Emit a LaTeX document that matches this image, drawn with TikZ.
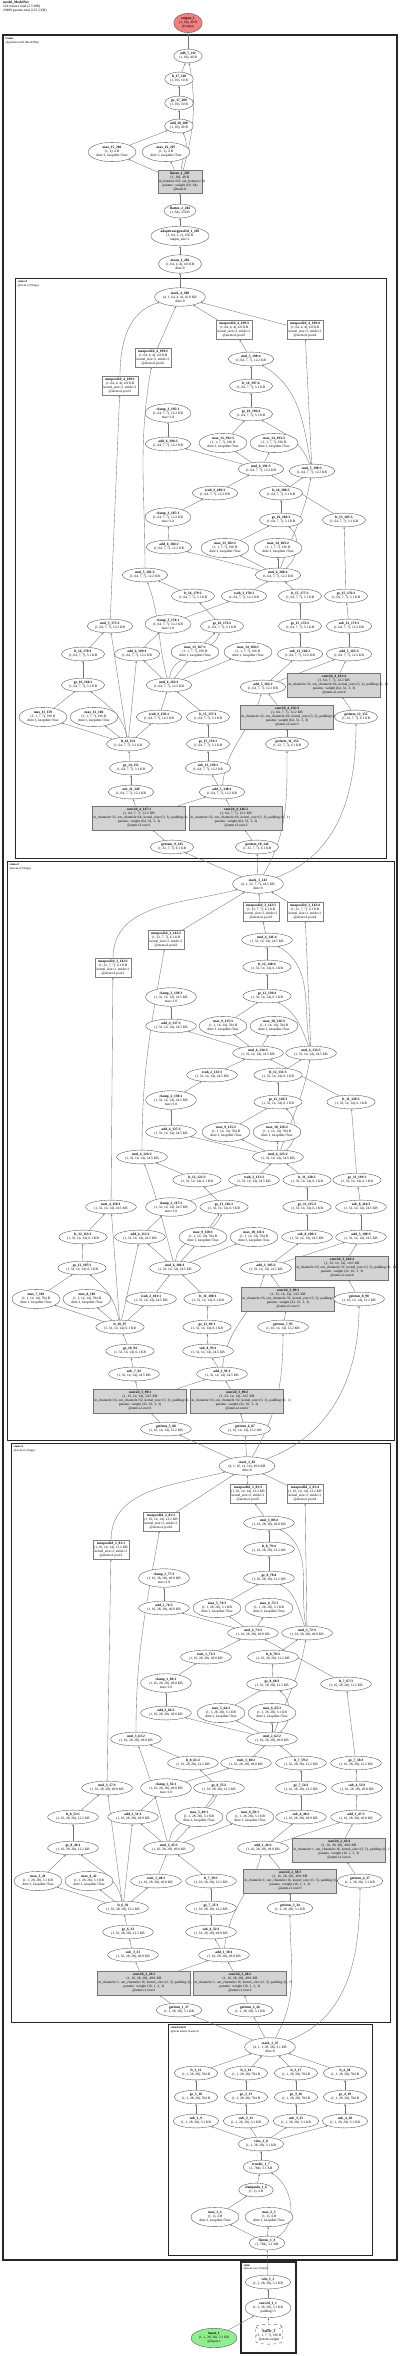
\documentclass[tikz,border=0pt]{standalone}
\usepackage{fontspec}
\setmainfont{Liberation Serif}
\usepackage{tikz}
\usetikzlibrary{shapes,arrows.meta,positioning}

\definecolor{outred}{RGB}{240,128,128}
\definecolor{ingreen}{RGB}{144,238,144}
\definecolor{modgray}{RGB}{211,211,211}
\pgfdeclarelayer{bg}
\pgfdeclarelayer{edges}
\pgfsetlayers{bg,edges,main}

\newcommand{\nodefont}{\fontsize{3.5}{4}\selectfont}
\newcommand{\kd}{dim=1, keepdim=True}
\newcommand{\ks}{kernel\_size=2, stride=2}
% stage 3
\newcommand{\shpA}{(1, 64, 7, 7), 12.2 KB}
\newcommand{\blnA}{(1, 64, 7, 7), 3.1 KB}
\newcommand{\mxA}{(1, 1, 7, 7), 196 B}
\newcommand{\giA}{(1, 32, 7, 7), 6.1 KB}
\newcommand{\plA}{(1, 64, 4, 4), 4.0 KB}
\newcommand{\cvA}{\mbox{in\_channels=32, out\_channels=64, kernel\_size=(3, 3), padding=(1, 1)}}
\newcommand{\wA}{params: weight (64, 32, 3, 3)}
% stage 2
\newcommand{\shpB}{(1, 32, 14, 14), 24.5 KB}
\newcommand{\blnB}{(1, 32, 14, 14), 6.1 KB}
\newcommand{\mxB}{(1, 1, 14, 14), 784 B}
\newcommand{\giB}{(1, 16, 14, 14), 12.2 KB}
\newcommand{\plB}{(1, 32, 7, 7), 6.1 KB}
\newcommand{\cvB}{\mbox{in\_channels=16, out\_channels=32, kernel\_size=(3, 3), padding=(1, 1)}}
\newcommand{\wB}{params: weight (32, 16, 3, 3)}
% stage 1
\newcommand{\shpC}{(1, 16, 28, 28), 49.0 KB}
\newcommand{\blnC}{(1, 16, 28, 28), 12.2 KB}
\newcommand{\mxC}{(1, 1, 28, 28), 3.1 KB}
\newcommand{\giC}{(1, 1, 28, 28), 3.1 KB}
\newcommand{\plC}{(1, 16, 14, 14), 12.2 KB}
\newcommand{\cvC}{\mbox{in\_channels=1, out\_channels=16, kernel\_size=(3, 3), padding=(1, 1)}}
\newcommand{\wC}{params: weight (16, 1, 3, 3)}

\begin{document}
\begin{tikzpicture}[x=1pt, y=-1pt,
    op/.style={ellipse, draw=black!70, line width=0.35pt, fill=white, align=center, inner xsep=1.2pt, inner ysep=1.3pt, font=\nodefont},
    mod/.style={rectangle, draw=black!55, line width=0.35pt, fill=modgray, text width=91pt, align=center, minimum height=24pt, inner sep=1pt, font=\nodefont},
    pool/.style={rectangle, draw=black!50, line width=0.3pt, fill=white, align=center, inner xsep=1.2pt, inner ysep=1.8pt, font=\nodefont},
    arrow/.style={-{Stealth[length=2pt,width=1.6pt]}, draw=black!55, line width=0.35pt},
    cluster/.style={draw=black!85, line width=0.9pt},
    clabel/.style={anchor=north west, align=left, inner sep=0.5pt, font=\fontsize{3}{3.4}\selectfont}
]
    \useasboundingbox (0,0) rectangle (400,2356);
    \node[anchor=north west, align=left, inner sep=0pt, font=\fontsize{3.5}{4}\selectfont] (title) at (3,1) {\textbf{model\_ModelNet}\\214 tensors total (2.5 MB)\\29480 params total (115.2 KB)};

    % head
    \node[op, fill=outred] (output) at (188,23) {\textbf{output\_1}\\(1, 10), 40 B\\@output};
    \node[op] (add7) at (188,56) {\textbf{add\_7\_211}\\(1, 10), 40 B};
    \node[op] (lt17) at (179,79) {\textbf{lt\_17\_210}\\(1, 10), 10 B};
    \node[op] (ge17) at (179,103) {\textbf{ge\_17\_209}\\(1, 10), 10 B};
    \node[op] (add18) at (179,126) {\textbf{add\_18\_208}\\(1, 10), 40 B};
    \node[op] (max15) at (112,152) {\textbf{max\_15\_206}\\(1, 1), 4 B\\\kd};
    \node[op] (max16) at (166,152) {\textbf{max\_16\_207}\\(1, 1), 4 B\\\kd};
    \node[mod, text width=42pt, minimum height=23pt] (linear) at (180,182) {\textbf{linear\_1\_205}\\(1, 10), 40 B\\\mbox{in\_features=64, out\_features=10}\\params: weight (10, 64)\\@head.fc};
    \node[op] (flatten2) at (180,211) {\textbf{flatten\_2\_204}\\(1, 64), 256 B};
    \node[op] (avgpool) at (180,236) {\textbf{adaptiveavgpool2d\_1\_203}\\(1, 64, 1, 1), 256 B\\output\_size=1};
    \node[op] (mean) at (180,264) {\textbf{mean\_1\_202}\\\plA\\dim=0};

    % stage 3
    \node[op] (a-top) at (180,297) {\textbf{stack\_4\_200}\\(4, 1, 64, 4, 4), 16.0 KB\\dim=0};
    \node[pool] (a-pool1) at (234,330) {\textbf{maxpool2d\_4\_199:3}\\\plA\\\ks\\@stem.s3.pool3};
    \node[pool] (a-pool2) at (305,330) {\textbf{maxpool2d\_4\_199:4}\\\plA\\\ks\\@stem.s3.pool4};
    \node[pool] (a-pool3) at (153,358) {\textbf{maxpool2d\_4\_199:2}\\\plA\\\ks\\@stem.s3.pool2};
    \node[pool] (a-pool4) at (120,386) {\textbf{maxpool2d\_4\_199:1}\\\plA\\\ks\\@stem.s3.pool1};
    \node[op] (a-mulo) at (251,359) {\textbf{mul\_5\_198:4}\\\shpA};
    \node[op] (a-lto) at (251,386) {\textbf{lt\_16\_197:4}\\\blnA};
    \node[op] (a-geo) at (251,414) {\textbf{ge\_16\_196:4}\\\blnA};
    \node[op] (a-clo) at (168,413) {\textbf{clamp\_3\_195:3}\\\shpA\\max=1.0};
    \node[op] (a-addo) at (168,444) {\textbf{add\_6\_194:3}\\\shpA};
    \node[op] (a-maxo) at (223,443) {\textbf{max\_13\_192:3}\\\mxA\\\kd};
    \node[op] (a-maxo2) at (274,443) {\textbf{max\_14\_193:3}\\\mxA\\\kd};
    \node[op] (a-mula) at (261,469) {\textbf{mul\_6\_191:3}\\\shpA};
    \node[op] (a-mulb) at (312,471) {\textbf{mul\_5\_190:3}\\\shpA};
    \node[op] (a-rsa) at (215,493) {\textbf{rsub\_3\_189:3}\\\shpA};
    \node[op] (a-ltb) at (281,493) {\textbf{lt\_16\_188:3}\\\blnA};
    \node[op] (a-cla) at (168,517) {\textbf{clamp\_3\_187:2}\\\shpA\\max=1.0};
    \node[op] (a-geb) at (281,520) {\textbf{ge\_16\_186:3}\\\blnA};
    \node[op] (a-lta) at (344,520) {\textbf{lt\_15\_185:3}\\\blnA};
    \node[op] (a-adda) at (169,547) {\textbf{add\_6\_184:2}\\\shpA};
    \node[op] (a-maxb) at (225,548) {\textbf{max\_13\_182:2}\\\mxA\\\kd};
    \node[op] (a-maxb2) at (278,548) {\textbf{max\_14\_183:2}\\\mxA\\\kd};
    \node[op] (a-mulc) at (145,575) {\textbf{mul\_5\_181:2}\\\shpA};
    \node[op] (a-muld) at (278,575) {\textbf{mul\_6\_180:2}\\\shpA};
    \node[op] (a-ltc) at (193,596) {\textbf{lt\_16\_179:2}\\\blnA};
    \node[op] (a-rsd) at (244,596) {\textbf{rsub\_3\_178:2}\\\shpA};
    \node[op] (a-ltd) at (300,596) {\textbf{lt\_15\_177:2}\\\blnA};
    \node[op] (a-gea) at (346,596) {\textbf{ge\_15\_176:3}\\\blnA};
    \node[op] (a-mule) at (110,626) {\textbf{mul\_5\_175:1}\\\shpA};
    \node[op] (a-cld) at (168,624) {\textbf{clamp\_3\_174:1}\\\shpA\\max=1.0};
    \node[op] (a-gec) at (222,626) {\textbf{ge\_16\_173:2}\\\blnA};
    \node[op] (a-ged) at (300,626) {\textbf{ge\_15\_172:2}\\\blnA};
    \node[op] (a-suba) at (349,626) {\textbf{sub\_12\_171:3}\\\shpA};
    \node[op] (a-lte) at (83,654) {\textbf{lt\_16\_170:1}\\\blnA};
    \node[op] (a-addd) at (137,654) {\textbf{add\_6\_169:1}\\\shpA};
    \node[op] (a-maxc) at (195,652) {\textbf{max\_13\_167:1}\\\mxA\\\kd};
    \node[op] (a-maxc2) at (248,652) {\textbf{max\_14\_168:1}\\\mxA\\\kd};
    \node[op] (a-subd) at (300,654) {\textbf{sub\_12\_166:2}\\\shpA};
    \node[op] (a-addq) at (349,654) {\textbf{add\_5\_165:3}\\\shpA};
    \node[op] (a-gee) at (83,685) {\textbf{ge\_16\_164:1}\\\blnA};
    \node[op] (a-mulf) at (169,685) {\textbf{mul\_6\_163:1}\\\shpA};
    \node[op] (a-addf) at (263,687) {\textbf{add\_5\_162:2}\\\shpA};
    \node[mod] (a-convd) at (334,685) {\textbf{conv2d\_4\_161:4}\\\shpA\\\cvA\\\wA\\@stem.s3.conv4};
    \node[op] (a-maxe) at (43,717) {\textbf{max\_11\_159}\\\mxA\\\kd};
    \node[op] (a-maxe2) at (94,717) {\textbf{max\_12\_160}\\\mxA\\\kd};
    \node[op] (a-rsf) at (159,717) {\textbf{rsub\_3\_158:1}\\\shpA};
    \node[op] (a-ltf) at (208,717) {\textbf{lt\_15\_157:1}\\\blnA};
    \node[mod] (a-convf) at (287,717) {\textbf{conv2d\_4\_156:3}\\\shpA\\\cvA\\\wA\\@stem.s3.conv3};
    \node[op] (a-gid) at (356,717) {\textbf{getitem\_12\_155}\\\giA};
    \node[op] (a-ltg) at (128,744) {\textbf{lt\_14\_154}\\\blnA};
    \node[op] (a-gef) at (208,744) {\textbf{ge\_15\_153:1}\\\blnA};
    \node[op] (a-gif) at (287,744) {\textbf{getitem\_11\_152}\\\giA};
    \node[op] (a-geg) at (131,768) {\textbf{ge\_14\_151}\\\blnA};
    \node[op] (a-subf) at (208,768) {\textbf{sub\_12\_150:1}\\\shpA};
    \node[op] (a-subg) at (131,792) {\textbf{sub\_11\_149}\\\shpA};
    \node[op] (a-addg) at (222,792) {\textbf{add\_5\_148:1}\\\shpA};
    \node[mod] (a-convg) at (139,818) {\textbf{conv2d\_4\_147:1}\\\shpA\\\cvA\\\wA\\@stem.s3.conv1};
    \node[mod] (a-convh) at (236,818) {\textbf{conv2d\_4\_146:2}\\\shpA\\\cvA\\\wA\\@stem.s3.conv2};
    \node[op] (a-gig) at (172,847) {\textbf{getitem\_9\_145}\\\giA};
    \node[op] (a-gih) at (257,847) {\textbf{getitem\_10\_144}\\\giA};

    % stage 2
    \node[op] (b-top) at (258,884) {\textbf{stack\_3\_143}\\(4, 1, 32, 7, 7), 24.5 KB\\dim=0};
    \node[pool] (b-pool1) at (261,912) {\textbf{maxpool2d\_3\_142:3}\\\plB\\\ks\\@stem.s2.pool3};
    \node[pool] (b-pool2) at (305,912) {\textbf{maxpool2d\_3\_142:4}\\\plB\\\ks\\@stem.s2.pool4};
    \node[pool] (b-pool3) at (166,940) {\textbf{maxpool2d\_3\_142:2}\\\plB\\\ks\\@stem.s2.pool2};
    \node[pool] (b-pool4) at (113,968) {\textbf{maxpool2d\_3\_142:1}\\\plB\\\ks\\@stem.s2.pool1};
    \node[op] (b-mulo) at (267,940) {\textbf{mul\_4\_141:4}\\\shpB};
    \node[op] (b-lto) at (267,967) {\textbf{lt\_12\_140:4}\\\blnB};
    \node[op] (b-geo) at (267,996) {\textbf{ge\_12\_139:4}\\\blnB};
    \node[op] (b-clo) at (171,997) {\textbf{clamp\_2\_138:3}\\\shpB\\max=1.0};
    \node[op] (b-addo) at (171,1026) {\textbf{add\_4\_137:3}\\\shpB};
    \node[op] (b-maxo) at (223,1026) {\textbf{max\_9\_135:3}\\\mxB\\\kd};
    \node[op] (b-maxo2) at (274,1026) {\textbf{max\_10\_136:3}\\\mxB\\\kd};
    \node[op] (b-mula) at (258,1053) {\textbf{mul\_6\_134:3}\\\shpB};
    \node[op] (b-mulb) at (311,1053) {\textbf{mul\_4\_133:3}\\\shpB};
    \node[op] (b-rsa) at (212,1075) {\textbf{rsub\_2\_132:3}\\\shpB};
    \node[op] (b-ltb) at (278,1075) {\textbf{lt\_12\_131:3}\\\blnB};
    \node[op] (b-cla) at (171,1100) {\textbf{clamp\_2\_130:2}\\\shpB\\max=1.0};
    \node[op] (b-geb) at (278,1102) {\textbf{ge\_12\_129:3}\\\blnB};
    \node[op] (b-lta) at (351,1102) {\textbf{lt\_11\_128:3}\\\blnB};
    \node[op] (b-adda) at (171,1132) {\textbf{add\_4\_127:2}\\\shpB};
    \node[op] (b-maxb) at (226,1132) {\textbf{max\_9\_125:2}\\\mxB\\\kd};
    \node[op] (b-maxb2) at (277,1132) {\textbf{max\_10\_126:2}\\\mxB\\\kd};
    \node[op] (b-mulc) at (142,1157) {\textbf{mul\_4\_124:2}\\\shpB};
    \node[op] (b-muld) at (278,1157) {\textbf{mul\_6\_123:2}\\\shpB};
    \node[op] (b-ltc) at (197,1180) {\textbf{lt\_12\_122:2}\\\blnB};
    \node[op] (b-rsd) at (254,1180) {\textbf{rsub\_2\_121:2}\\\shpB};
    \node[op] (b-ltd) at (307,1180) {\textbf{lt\_11\_120:2}\\\blnB};
    \node[op] (b-gea) at (357,1180) {\textbf{ge\_11\_119:3}\\\blnB};
    \node[op] (b-mule) at (111,1207) {\textbf{mul\_4\_118:1}\\\shpB};
    \node[op] (b-cld) at (171,1207) {\textbf{clamp\_2\_117:1}\\\shpB\\max=1.0};
    \node[op] (b-gec) at (224,1207) {\textbf{ge\_12\_116:2}\\\blnB};
    \node[op] (b-ged) at (307,1207) {\textbf{ge\_11\_115:2}\\\blnB};
    \node[op] (b-suba) at (361,1207) {\textbf{sub\_8\_114:3}\\\shpB};
    \node[op] (b-lte) at (83,1237) {\textbf{lt\_12\_113:1}\\\blnB};
    \node[op] (b-addd) at (140,1237) {\textbf{add\_4\_112:1}\\\shpB};
    \node[op] (b-maxc) at (203,1237) {\textbf{max\_9\_110:1}\\\mxB\\\kd};
    \node[op] (b-maxc2) at (254,1237) {\textbf{max\_10\_111:1}\\\mxB\\\kd};
    \node[op] (b-subd) at (307,1237) {\textbf{sub\_8\_109:2}\\\shpB};
    \node[op] (b-addq) at (361,1237) {\textbf{add\_3\_108:3}\\\shpB};
    \node[op] (b-gee) at (82,1268) {\textbf{ge\_12\_107:1}\\\blnB};
    \node[op] (b-mulf) at (175,1268) {\textbf{mul\_6\_106:1}\\\shpB};
    \node[op] (b-addf) at (266,1268) {\textbf{add\_3\_105:2}\\\shpB};
    \node[mod] (b-convd) at (342,1268) {\textbf{conv2d\_3\_104:4}\\\shpB\\\cvB\\\wB\\@stem.s2.conv4};
    \node[op] (b-maxe) at (36,1299) {\textbf{max\_7\_102}\\\mxB\\\kd};
    \node[op] (b-maxe2) at (87,1299) {\textbf{max\_8\_103}\\\mxB\\\kd};
    \node[op] (b-rsf) at (151,1299) {\textbf{rsub\_2\_101:1}\\\shpB};
    \node[op] (b-ltf) at (208,1299) {\textbf{lt\_11\_100:1}\\\blnB};
    \node[mod] (b-convf) at (288,1299) {\textbf{conv2d\_3\_99:3}\\\shpB\\\cvB\\\wB\\@stem.s2.conv3};
    \node[op] (b-gid) at (359,1299) {\textbf{getitem\_8\_98}\\\giB};
    \node[op] (b-ltg) at (120,1327) {\textbf{lt\_10\_97}\\\blnB};
    \node[op] (b-gef) at (207,1327) {\textbf{ge\_11\_96:1}\\\blnB};
    \node[op] (b-gif) at (283,1327) {\textbf{getitem\_7\_95}\\\giB};
    \node[op] (b-geg) at (130,1351) {\textbf{ge\_10\_94}\\\blnB};
    \node[op] (b-subf) at (208,1351) {\textbf{sub\_8\_93:1}\\\shpB};
    \node[op] (b-subg) at (134,1374) {\textbf{sub\_7\_92}\\\shpB};
    \node[op] (b-addg) at (222,1374) {\textbf{add\_3\_91:1}\\\shpB};
    \node[mod] (b-convg) at (140,1401) {\textbf{conv2d\_3\_90:1}\\\shpB\\\cvB\\\wB\\@stem.s2.conv1};
    \node[mod] (b-convh) at (237,1401) {\textbf{conv2d\_3\_89:2}\\\shpB\\\cvB\\\wB\\@stem.s2.conv2};
    \node[op] (b-gig) at (166,1429) {\textbf{getitem\_5\_88}\\\giB};
    \node[op] (b-gih) at (245,1429) {\textbf{getitem\_6\_87}\\\giB};

    % stage 1
    \node[op] (c-top) at (247,1466) {\textbf{stack\_2\_82}\\(4, 1, 16, 14, 14), 49.0 KB\\dim=0};
    \node[pool] (c-pool1) at (248,1494) {\textbf{maxpool2d\_2\_81:3}\\\plC\\\ks\\@stem.s1.pool3};
    \node[pool] (c-pool2) at (305,1494) {\textbf{maxpool2d\_2\_81:4}\\\plC\\\ks\\@stem.s1.pool4};
    \node[pool] (c-pool3) at (161,1522) {\textbf{maxpool2d\_2\_81:2}\\\plC\\\ks\\@stem.s1.pool2};
    \node[pool] (c-pool4) at (111,1550) {\textbf{maxpool2d\_2\_81:1}\\\plC\\\ks\\@stem.s1.pool1};
    \node[op] (c-mulo) at (269,1523) {\textbf{mul\_3\_80:4}\\\shpC};
    \node[op] (c-lto) at (269,1549) {\textbf{lt\_8\_79:4}\\\blnC};
    \node[op] (c-geo) at (269,1578) {\textbf{ge\_8\_78:4}\\\blnC};
    \node[op] (c-clo) at (164,1578) {\textbf{clamp\_1\_77:3}\\\shpC\\max=1.0};
    \node[op] (c-addo) at (164,1608) {\textbf{add\_2\_76:3}\\\shpC};
    \node[op] (c-maxo) at (217,1608) {\textbf{max\_5\_74:3}\\\mxC\\\kd};
    \node[op] (c-maxo2) at (269,1608) {\textbf{max\_6\_75:3}\\\mxC\\\kd};
    \node[op] (c-mula) at (253,1633) {\textbf{mul\_2\_73:3}\\\shpC};
    \node[op] (c-mulb) at (307,1633) {\textbf{mul\_3\_72:3}\\\shpC};
    \node[op] (c-rsa) at (206,1657) {\textbf{rsub\_1\_71:3}\\\shpC};
    \node[op] (c-ltb) at (273,1657) {\textbf{lt\_8\_70:3}\\\blnC};
    \node[op] (c-cla) at (166,1683) {\textbf{clamp\_1\_69:2}\\\shpC\\max=1.0};
    \node[op] (c-geb) at (272,1684) {\textbf{ge\_8\_68:3}\\\blnC};
    \node[op] (c-lta) at (346,1684) {\textbf{lt\_7\_67:3}\\\blnC};
    \node[op] (c-adda) at (166,1713) {\textbf{add\_2\_66:2}\\\shpC};
    \node[op] (c-maxb) at (221,1713) {\textbf{max\_5\_64:2}\\\mxC\\\kd};
    \node[op] (c-maxb2) at (272,1713) {\textbf{max\_6\_65:2}\\\mxC\\\kd};
    \node[op] (c-mulc) at (136,1739) {\textbf{mul\_3\_63:2}\\\shpC};
    \node[op] (c-muld) at (272,1739) {\textbf{mul\_2\_62:2}\\\shpC};
    \node[op] (c-ltc) at (193,1763) {\textbf{lt\_8\_61:2}\\\blnC};
    \node[op] (c-rsd) at (246,1763) {\textbf{rsub\_1\_60:2}\\\shpC};
    \node[op] (c-ltd) at (301,1763) {\textbf{lt\_7\_59:2}\\\blnC};
    \node[op] (c-gea) at (356,1763) {\textbf{ge\_7\_58:3}\\\blnC};
    \node[op] (c-mule) at (107,1788) {\textbf{mul\_3\_57:1}\\\shpC};
    \node[op] (c-cld) at (166,1788) {\textbf{clamp\_1\_56:1}\\\shpC\\max=1.0};
    \node[op] (c-gec) at (219,1788) {\textbf{ge\_8\_55:2}\\\blnC};
    \node[op] (c-ged) at (301,1788) {\textbf{ge\_7\_54:2}\\\blnC};
    \node[op] (c-suba) at (357,1788) {\textbf{sub\_4\_53:3}\\\shpC};
    \node[op] (c-lte) at (73,1817) {\textbf{lt\_8\_52:1}\\\blnC};
    \node[op] (c-addd) at (133,1817) {\textbf{add\_2\_51:1}\\\shpC};
    \node[op] (c-maxc) at (199,1817) {\textbf{max\_5\_49:1}\\\mxC\\\kd};
    \node[op] (c-maxc2) at (250,1817) {\textbf{max\_6\_50:1}\\\mxC\\\kd};
    \node[op] (c-subd) at (301,1817) {\textbf{sub\_4\_48:2}\\\shpC};
    \node[op] (c-addq) at (356,1817) {\textbf{add\_1\_47:3}\\\shpC};
    \node[op] (c-gee) at (73,1848) {\textbf{ge\_8\_46:1}\\\blnC};
    \node[op] (c-mulf) at (169,1848) {\textbf{mul\_2\_45:1}\\\shpC};
    \node[op] (c-addf) at (263,1848) {\textbf{add\_1\_44:2}\\\shpC};
    \node[mod] (c-convd) at (339,1850) {\textbf{conv2d\_2\_43:4}\\\shpC\\\cvC\\\wC\\@stem.s1.conv4};
    \node[op] (c-maxe) at (38,1881) {\textbf{max\_3\_41}\\\mxC\\\kd};
    \node[op] (c-maxe2) at (89,1881) {\textbf{max\_4\_42}\\\mxC\\\kd};
    \node[op] (c-rsf) at (156,1881) {\textbf{rsub\_1\_40:1}\\\shpC};
    \node[op] (c-ltf) at (211,1881) {\textbf{lt\_7\_39:1}\\\blnC};
    \node[mod] (c-convf) at (290,1881) {\textbf{conv2d\_2\_38:3}\\\shpC\\\cvC\\\wC\\@stem.s1.conv3};
    \node[op] (c-gid) at (360,1881) {\textbf{getitem\_4\_37}\\\giC};
    \node[op] (c-ltg) at (123,1908) {\textbf{lt\_6\_36}\\\blnC};
    \node[op] (c-gef) at (211,1908) {\textbf{ge\_7\_35:1}\\\blnC};
    \node[op] (c-gif) at (290,1908) {\textbf{getitem\_3\_34}\\\giC};
    \node[op] (c-geg) at (128,1932) {\textbf{ge\_6\_33}\\\blnC};
    \node[op] (c-subf) at (211,1932) {\textbf{sub\_4\_32:1}\\\shpC};
    \node[op] (c-subg) at (133,1955) {\textbf{sub\_3\_31}\\\shpC};
    \node[op] (c-addg) at (224,1955) {\textbf{add\_1\_30:1}\\\shpC};
    \node[mod] (c-convg) at (144,1983) {\textbf{conv2d\_2\_29:1}\\\shpC\\\cvC\\\wC\\@stem.s1.conv1};
    \node[mod] (c-convh) at (240,1983) {\textbf{conv2d\_2\_28:2}\\\shpC\\\cvC\\\wC\\@stem.s1.conv2};
    \node[op] (c-gig) at (179,2010) {\textbf{getitem\_1\_27}\\\giC};
    \node[op] (c-gih) at (250,2010) {\textbf{getitem\_2\_26}\\\giC};

    % lateral
    \node[op] (lat-stack) at (270,2047) {\textbf{stack\_1\_25}\\(4, 1, 1, 28, 28), 3.1 KB\\dim=0};
    \node[op] (lat-lt1) at (196,2073) {\textbf{lt\_1\_11}\\(1, 1, 28, 28), 784 B};
    \node[op] (lat-lt2) at (246,2073) {\textbf{lt\_2\_14}\\(1, 1, 28, 28), 784 B};
    \node[op] (lat-lt3) at (296,2073) {\textbf{lt\_3\_17}\\(1, 1, 28, 28), 784 B};
    \node[op] (lat-lt4) at (345,2073) {\textbf{lt\_4\_20}\\(1, 1, 28, 28), 784 B};
    \node[op] (lat-ge1) at (196,2097) {\textbf{ge\_1\_10}\\(1, 1, 28, 28), 784 B};
    \node[op] (lat-ge2) at (246,2097) {\textbf{ge\_2\_13}\\(1, 1, 28, 28), 784 B};
    \node[op] (lat-ge3) at (296,2097) {\textbf{ge\_3\_16}\\(1, 1, 28, 28), 784 B};
    \node[op] (lat-ge4) at (345,2097) {\textbf{ge\_4\_19}\\(1, 1, 28, 28), 784 B};
    \node[op] (lat-sub1) at (196,2121) {\textbf{sub\_1\_9}\\(1, 1, 28, 28), 3.1 KB};
    \node[op] (lat-sub2) at (246,2121) {\textbf{sub\_2\_12}\\(1, 1, 28, 28), 3.1 KB};
    \node[op] (lat-sub3) at (296,2121) {\textbf{sub\_3\_15}\\(1, 1, 28, 28), 3.1 KB};
    \node[op] (lat-sub4) at (345,2121) {\textbf{sub\_4\_18}\\(1, 1, 28, 28), 3.1 KB};
    \node[op] (lat-view) at (261,2144) {\textbf{view\_1\_8}\\(1, 1, 28, 28), 3.1 KB};
    \node[op] (lat-div) at (261,2167) {\textbf{truediv\_1\_7}\\(1, 784), 3.1 KB};
    \node[op] (lat-clamp) at (256,2190) {\textbf{clampmin\_1\_6}\\(1, 1), 4 B};
    \node[op] (lat-max1) at (215,2217) {\textbf{max\_1\_4}\\(1, 1), 4 B\\\kd};
    \node[op] (lat-max2) at (269,2217) {\textbf{max\_2\_5}\\(1, 1), 4 B\\\kd};
    \node[op] (lat-flat) at (267,2243) {\textbf{flatten\_1\_3}\\(1, 784), 3.1 KB};

    % stem
    \node[op] (stem-relu) at (268,2282) {\textbf{relu\_1\_2}\\(1, 1, 28, 28), 3.1 KB};
    \node[op] (stem-conv) at (268,2308) {\textbf{conv2d\_1\_1}\\(1, 1, 28, 28), 3.1 KB\\padding=3};
    \node[cylinder, shape border rotate=90, aspect=0.2, draw=black!70, dashed, line width=0.35pt, fill=white, align=center, inner sep=0.8pt, font=\nodefont] (stem-buf) at (269,2336) {\textbf{buffer\_1}\\(1, 1, 7, 7), 196 B\\@stem.weight};
    \node[op, fill=ingreen] (input) at (214,2338) {\textbf{input\_1}\\(1, 1, 28, 28), 3.1 KB\\@input.x};

    \begin{pgfonlayer}{bg}
        \draw[cluster, line width=1.3pt] (3,35) rectangle (397,2260);
        \draw[cluster] (15,278) rectangle (386,858);
        \draw[cluster] (7,861) rectangle (394,1440);
        \draw[cluster] (11,1443) rectangle (390,2022);
        \draw[cluster] (168,2024) rectangle (372,2255);
        \draw[cluster, line width=1.3pt] (241,2262) rectangle (296,2353);
        \node[clabel] (lbl-model) at (5,37) {\textbf{frame}\\@global.model (ModelNet)};
        \node[clabel] (lbl-s3) at (17,280) {\textbf{stem.s3}\\@stem.s3 (Stage)};
        \node[clabel] (lbl-s2) at (9,863) {\textbf{stem.s2}\\@stem.s2 (Stage)};
        \node[clabel] (lbl-s1) at (13,1445) {\textbf{stem.s1}\\@stem.s1 (Stage)};
        \node[clabel] (lbl-lat) at (170,2026) {\textbf{stem.lateral}\\@stem.lateral (Lateral)};
        \node[clabel] (lbl-stem) at (243,2264) {\textbf{stem}\\@stem.conv (Stem)};
    \end{pgfonlayer}

    \begin{pgfonlayer}{edges}
        % head
        \draw[arrow] (add7) -- (output);
        \draw[arrow] (lt17) -- (add7);
        \draw[arrow] (linear) to[out=75,in=-80] (add7);
        \draw[arrow] (ge17) -- (lt17);
        \draw[arrow] (add18) -- (ge17);
        \draw[arrow] (max15) -- (add18);
        \draw[arrow] (linear) to[out=85,in=-60] (add18);
        \draw[arrow] (linear) -- (max15);
        \draw[arrow] (linear) -- (max16);
        \draw[arrow] (flatten2) -- (linear);
        \draw[arrow] (avgpool) -- (flatten2);
        \draw[arrow] (mean) -- (avgpool);
        \draw[arrow] (a-top) -- (mean);

        % one stage
        \foreach \k in {a,b,c} {
            \draw[arrow] (\k-pool1) -- (\k-top);
            \draw[arrow] (\k-pool2) -- (\k-top);
            \draw[arrow] (\k-pool3) -- (\k-top);
            \draw[arrow] (\k-pool4) to[out=90,in=195] (\k-top);
            \draw[arrow] (\k-mulo) -- (\k-pool1);
            \draw[arrow] (\k-lto) -- (\k-mulo);
            \draw[arrow] (\k-mulb) to[out=100,in=-30] (\k-mulo);
            \draw[arrow] (\k-geo) -- (\k-lto);
            \draw[arrow] (\k-maxo) -- (\k-geo);
            \draw[arrow] (\k-mulb) to[out=110,in=-30] (\k-geo);
            \draw[arrow] (\k-mula) -- (\k-addo);
            \draw[arrow] (\k-mula) -- (\k-maxo);
            \draw[arrow] (\k-mula) -- (\k-maxo2);
            \draw[arrow] (\k-addo) -- (\k-clo);
            \draw[arrow] (\k-rsa) -- (\k-mula);
            \draw[arrow] (\k-lta) -- (\k-mula);
            \draw[arrow] (\k-mulb) -- (\k-pool2);
            \draw[arrow] (\k-ltb) -- (\k-mulb);
            \draw[arrow] (\k-muld) to[out=70,in=-100] (\k-mulb);
            \draw[arrow] (\k-geb) -- (\k-ltb);
            \draw[arrow] (\k-maxb) -- (\k-geb);
            \draw[arrow] (\k-muld) to[out=40,in=-40] (\k-geb);
            \draw[arrow] (\k-muld) -- (\k-adda);
            \draw[arrow] (\k-muld) -- (\k-maxb);
            \draw[arrow] (\k-muld) -- (\k-maxb2);
            \draw[arrow] (\k-adda) -- (\k-cla);
            \draw[arrow] (\k-cla) -- (\k-rsa);
            \draw[arrow] (\k-gea) -- (\k-lta);
            \draw[arrow] (\k-rsd) -- (\k-muld);
            \draw[arrow] (\k-ltd) -- (\k-muld);
            \draw[arrow] (\k-ltc) -- (\k-mulc);
            \draw[arrow] (\k-mulf) to[out=105,in=-70] (\k-mulc);
            \draw[arrow] (\k-mulc) to[out=90,in=-100] (\k-pool3);
            \draw[arrow] (\k-cld) -- (\k-rsd);
            \draw[arrow] (\k-gec) -- (\k-ltc);
            \draw[arrow] (\k-ged) -- (\k-ltd);
            \draw[arrow] (\k-suba) -- (\k-gea);
            \draw[arrow] (\k-mule) -- (\k-pool4);
            \draw[arrow] (\k-lte) -- (\k-mule);
            \draw[arrow] (\k-ltg) -- (\k-mule);
            \draw[arrow] (\k-addd) -- (\k-cld);
            \draw[arrow] (\k-maxc) -- (\k-gec);
            \draw[arrow] (\k-mulf) to[out=85,in=-110] (\k-gec);
            \draw[arrow] (\k-subd) -- (\k-ged);
            \draw[arrow] (\k-addq) -- (\k-suba);
            \draw[arrow] (\k-gee) -- (\k-lte);
            \draw[arrow] (\k-mulf) -- (\k-addd);
            \draw[arrow] (\k-mulf) -- (\k-maxc);
            \draw[arrow] (\k-mulf) -- (\k-maxc2);
            \draw[arrow] (\k-maxe) -- (\k-gee);
            \draw[arrow] (\k-ltg) to[out=100,in=-40] (\k-gee);
            \draw[arrow] (\k-ltg) -- (\k-maxe);
            \draw[arrow] (\k-ltg) -- (\k-maxe2);
            \draw[arrow] (\k-ltg) -- (\k-rsf);
            \draw[arrow] (\k-ltg) -- (\k-addd);
            \draw[arrow] (\k-rsf) -- (\k-mulf);
            \draw[arrow] (\k-ltf) -- (\k-mulf);
            \draw[arrow] (\k-gef) -- (\k-ltf);
            \draw[arrow] (\k-subf) -- (\k-gef);
            \draw[arrow] (\k-addg) -- (\k-subf);
            \draw[arrow] (\k-geg) -- (\k-ltg);
            \draw[arrow] (\k-subg) -- (\k-geg);
            \draw[arrow] (\k-convg) -- (\k-subg);
            \draw[arrow] (\k-convg) -- (\k-addg);
            \draw[arrow] (\k-convh) -- (\k-addg);
            \draw[arrow] (\k-addg) to[out=85,in=-105] (\k-addf);
            \draw[arrow] (\k-convf) -- (\k-addf);
            \draw[arrow] (\k-addf) -- (\k-subd);
            \draw[arrow] (\k-addf) -- (\k-addq);
            \draw[arrow] (\k-convd) -- (\k-addq);
            \draw[arrow] (\k-gif) -- (\k-convf);
            \draw[arrow] (\k-gid) -- (\k-convd);
            \draw[arrow] (\k-gig) -- (\k-convg);
            \draw[arrow] (\k-gih) -- (\k-convh);
        }

        % stage to stage
        \foreach \lo/\hi in {b-top/a, c-top/b, lat-stack/c} {
            \draw[arrow] (\lo) -- (\hi-gig);
            \draw[arrow] (\lo) -- (\hi-gih);
            \draw[arrow] (\lo) to[out=60,in=-90] (\hi-gif);
            \draw[arrow] (\lo) to[out=20,in=-90] (\hi-gid);
        }

        % lateral
        \foreach \i in {1,2,3,4} {
            \draw[arrow] (lat-lt\i) -- (lat-stack);
            \draw[arrow] (lat-ge\i) -- (lat-lt\i);
            \draw[arrow] (lat-sub\i) -- (lat-ge\i);
            \draw[arrow] (lat-view) -- (lat-sub\i);
        }
        \draw[arrow] (lat-div) -- (lat-view);
        \draw[arrow] (lat-clamp) -- (lat-div);
        \draw[arrow] (lat-flat) to[out=30,in=-30] (lat-div);
        \draw[arrow] (lat-max1) -- (lat-clamp);
        \draw[arrow] (lat-flat) -- (lat-max1);
        \draw[arrow] (lat-flat) -- (lat-max2);

        % stem
        \draw[arrow] (stem-relu) -- (lat-flat);
        \draw[arrow] (stem-conv) -- (stem-relu);
        \draw[arrow] (stem-buf) -- (stem-conv);
        \draw[arrow] (input) -- (stem-conv);
    \end{pgfonlayer}
\end{tikzpicture}
\end{document}
